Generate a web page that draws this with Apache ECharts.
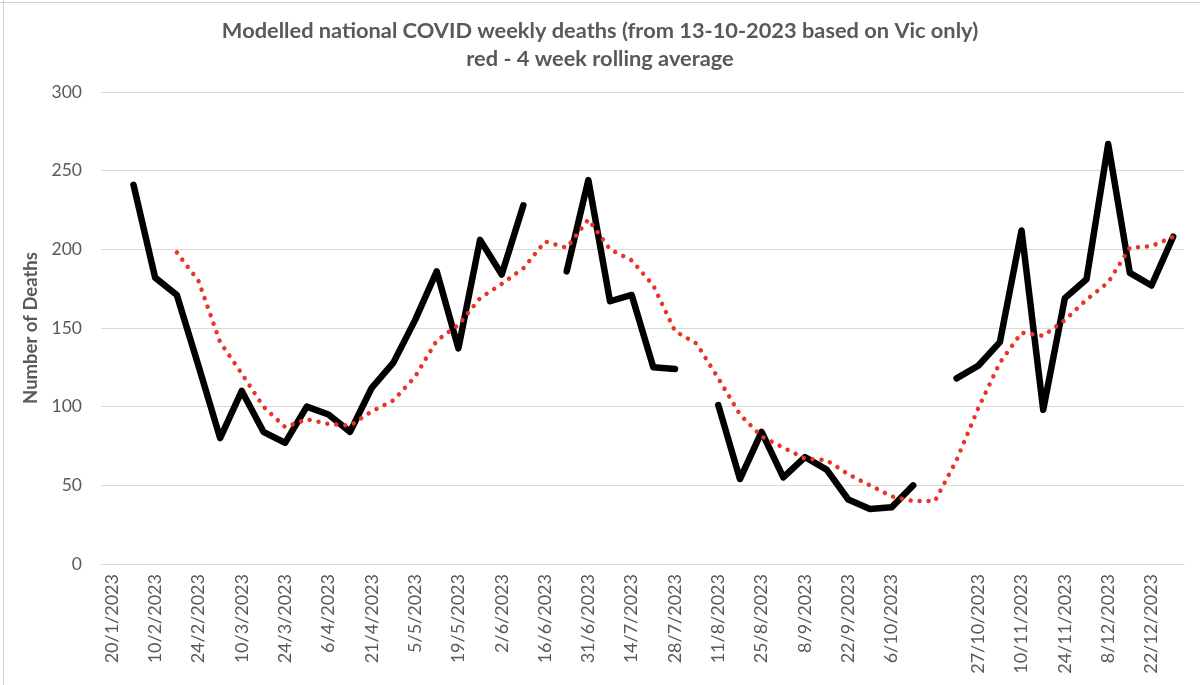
<!DOCTYPE html>
<html>
<head>
<meta charset="utf-8">
<script src="https://cdn.jsdelivr.net/npm/echarts@6/dist/echarts.min.js"></script>
<style>
html,body{margin:0;padding:0;background:#fff;}
#chart{width:1200px;height:685px;}
</style>
</head>
<body>
<div id="chart"></div>
<script>
// Tick labels shown under every second weekly category ('' = blank label)
const tickLabels = ['20/1/2023','10/2/2023','24/2/2023','10/3/2023','24/3/2023','6/4/2023','21/4/2023','5/5/2023','19/5/2023','2/6/2023','16/6/2023','31/6/2023','14/7/2023','28/7/2023','11/8/2023','25/8/2023','8/9/2023','22/9/2023','6/10/2023','','27/10/2023','10/11/2023','24/11/2023','8/12/2023','22/12/2023'];

// Weekly modelled deaths (black)
const weeklyDeaths = [null,241,182,171,126,80,110,84,77,100,95,84,112,128,155,186,137,206,184,228,null,186,244,167,171,125,124,null,101,54,84,55,68,60,41,35,36,50,null,118,126,141,212,98,169,181,267,185,177,208];

// 4 week rolling average (red dotted)
const rollingAvg = [null,null,null,198,180,141,121,100,87,92,89,88,97,104,119,142,152,169,178,188,205,201,219,200,193,177,148,140,118,95,81,74,67,66,57,50,43,40,40,66,99,128,147,145,155,168,179,201,202,208];

const categories = weeklyDeaths.map((_, i) => (i % 2 === 0 ? tickLabels[i / 2] : ''));

const chart = echarts.init(document.getElementById('chart'), null, {renderer: 'canvas'});
const grey = '#595959';
chart.setOption({
  backgroundColor: '#ffffff',
  animation: false,
  title: {
    text: 'Modelled national COVID weekly deaths (from 13-10-2023 based on Vic only)\nred - 4 week rolling average',
    left: 'center',
    top: 12,
    textStyle: {fontFamily: 'Lato', fontWeight: 'bold', fontSize: 21.8, color: grey, lineHeight: 28}
  },
  graphic: [
    {type: 'line', shape: {x1: 0, y1: 2.5, x2: 1200, y2: 2.5}, style: {stroke: '#d0d0d0', lineWidth: 1}},
    {type: 'line', shape: {x1: 3.5, y1: 0, x2: 3.5, y2: 685}, style: {stroke: '#d0d0d0', lineWidth: 1}}
  ],
  grid: {left: 101, right: 16, top: 92, bottom: 121, containLabel: false},
  xAxis: {
    type: 'category',
    data: categories,
    boundaryGap: true,
    axisLine: {show: true, lineStyle: {color: '#d9d9d9', width: 1}},
    axisTick: {show: false},
    axisLabel: {interval: 0, rotate: 90, margin: 10, fontFamily: 'Lato', fontSize: 18, color: grey}
  },
  yAxis: {
    type: 'value',
    min: 0, max: 300, interval: 50,
    name: 'Number of Deaths',
    nameLocation: 'middle',
    nameGap: 57,
    nameTextStyle: {fontFamily: 'Lato', fontWeight: 'bold', fontSize: 18.5, color: grey},
    axisLine: {show: false},
    axisTick: {show: false},
    axisLabel: {margin: 19, fontFamily: 'Lato', fontSize: 17.5, color: grey},
    splitLine: {lineStyle: {color: '#d9d9d9', width: 1}}
  },
  series: [
    {
      name: 'Weekly deaths',
      type: 'line',
      data: weeklyDeaths,
      showSymbol: false,
      symbol: 'none',
      connectNulls: false,
      lineStyle: {color: '#000000', width: 6.5, cap: 'round', join: 'round'},
      z: 3
    },
    {
      name: '4 week rolling average',
      type: 'line',
      data: rollingAvg,
      showSymbol: false,
      symbol: 'none',
      lineStyle: {color: '#e8342a', width: 4.5, type: [0.01, 9], cap: 'round', join: 'round'},
      z: 4
    }
  ]
});
</script>
</body>
</html>
